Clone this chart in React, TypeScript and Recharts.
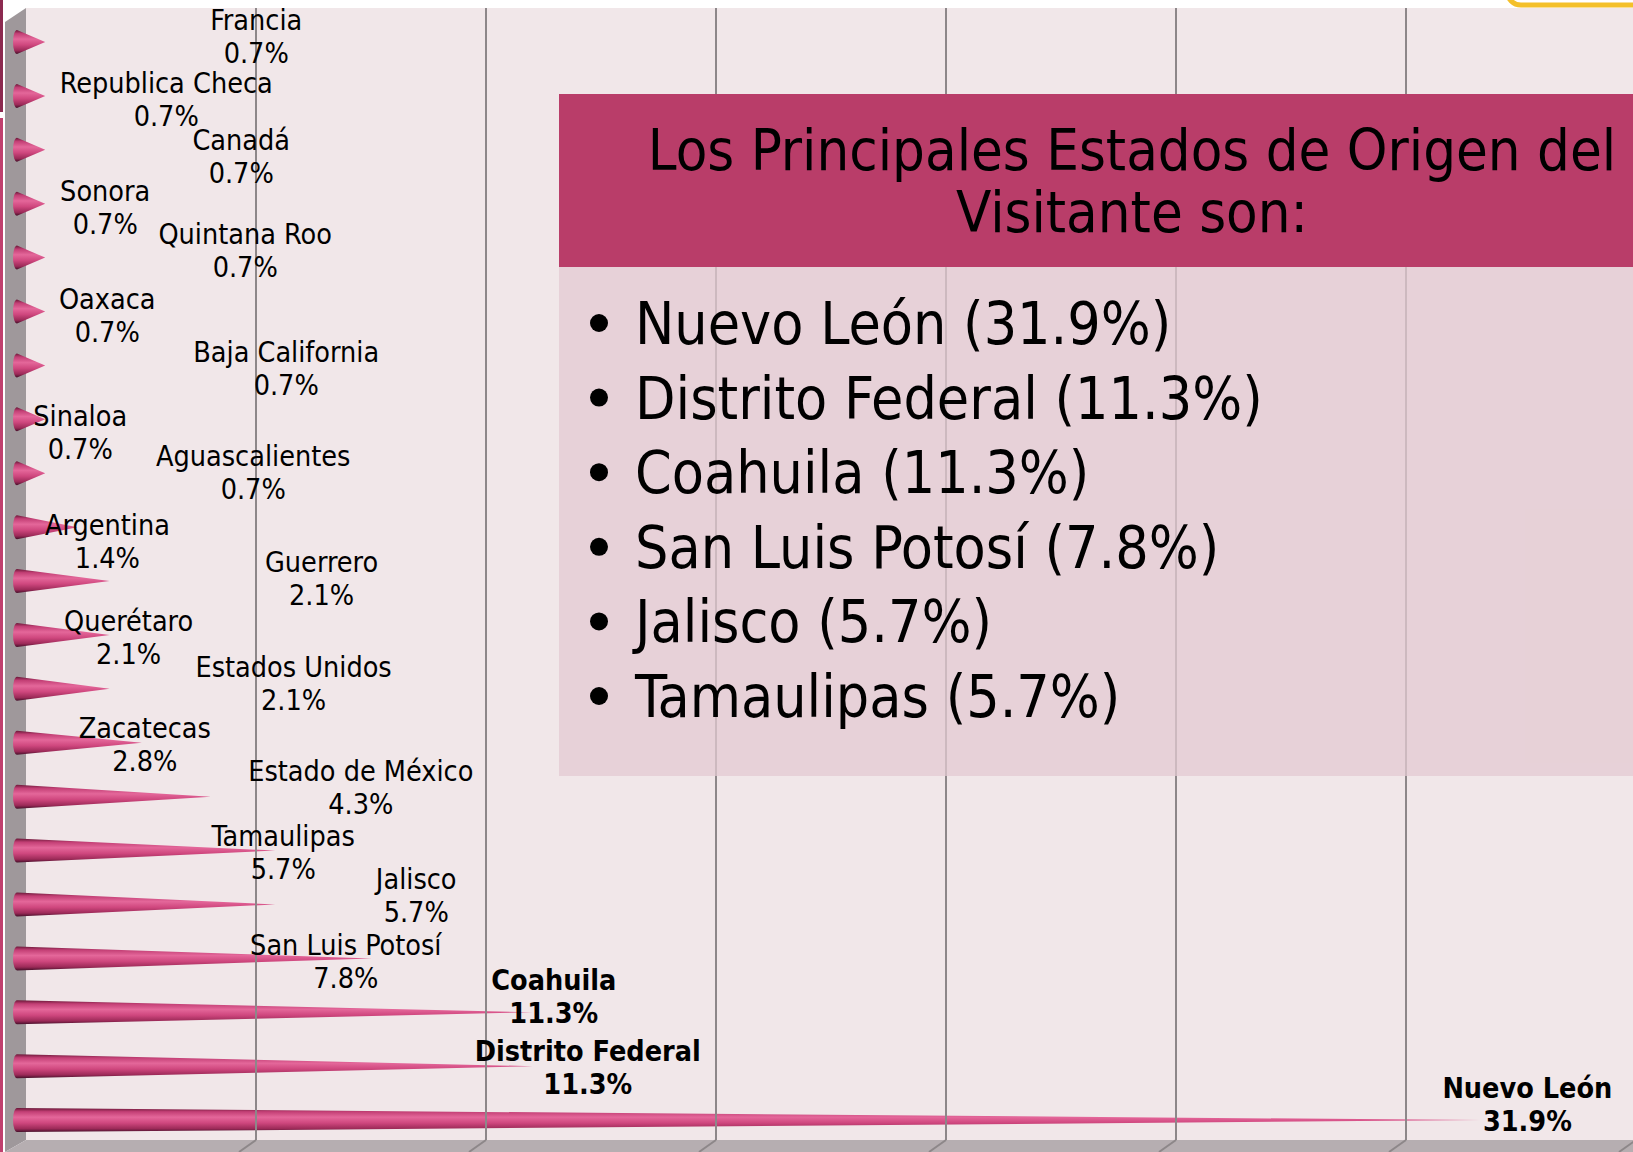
import React from "react";
import { BarChart, Bar, XAxis, YAxis, ReferenceLine, LabelList } from "recharts";

const STATES = [
  "Francia", "Republica Checa", "Canadá", "Sonora", "Quintana Roo", "Oaxaca",
  "Baja California", "Sinaloa", "Aguascalientes", "Argentina", "Guerrero",
  "Querétaro", "Estados Unidos", "Zacatecas", "Estado de México", "Tamaulipas",
  "Jalisco", "San Luis Potosí", "Coahuila", "Distrito Federal", "Nuevo León",
];
const SHARES = [
  0.7, 0.7, 0.7, 0.7, 0.7, 0.7, 0.7, 0.7, 0.7, 1.4, 2.1, 2.1, 2.1, 2.8, 4.3,
  5.7, 5.7, 7.8, 11.3, 11.3, 31.9,
];
const GRID_TICKS = [5, 10, 15, 20, 25, 30, 35];
const TITLE_LINES = ["Los Principales Estados de Origen del", "Visitante son:"];

// labels were dragged by hand in the original: offset from cone tip / cone centre
const LABEL_OFFSETS: [number, number][] = [
  [211, -22], [121, -12], [196, -9], [60, -12], [200, -23], [62, -12],
  [241, -13], [35, -3], [208, -17], [30, -2], [212, -19], [19, -13],
  [184, -21], [3, -14], [150, -25], [8, -14], [141, -25], [-26, -13],
  [21, -32], [55, -15], [47, -32],
];

const W = 1633;
const H = 1152;
const DEPTH = 13;
const FONT = "'DejaVu Sans Condensed', 'DejaVu Sans', sans-serif";

const data = STATES.map((name, i) => ({ name, value: SHARES[i] }));
const top6 = data.slice().reverse().slice(0, 6);

const fmt = (v: number) => `${v.toFixed(1)}%`;

const Cone = (p: any) => {
  const { x, y, width, height } = p;
  if (width == null || height == null) return null;
  const rx = 4;
  const bx = x + rx;
  const cy = y + height / 2;
  const d = `M${bx},${y} L${x + width},${cy} L${bx},${y + height} A${rx},${height / 2} 0 0 1 ${bx},${y} Z`;
  return <path d={d} fill="url(#coneGrad)" />;
};

const GridLine = (p: any) => {
  const gx = p.x1 + DEPTH;
  return (
    <g>
      <line x1={gx} y1={8} x2={gx} y2={1140} stroke="#8d8789" strokeWidth={2} />
      <line x1={gx} y1={1140} x2={gx - 17} y2={1152} stroke="#8d8789" strokeWidth={2} />
    </g>
  );
};

const renderLabel = (p: any) => {
  const vb = p.viewBox || p;
  const x = vb.x ?? p.x;
  const y = vb.y ?? p.y;
  const width = vb.width ?? p.width;
  const height = vb.height ?? p.height;
  const idx = STATES.indexOf(p.value);
  if (idx < 0) return null;
  const [dx, dy] = LABEL_OFFSETS[idx];
  const cx = x + width + dx;
  const ny = y + height / 2 + dy;
  const bold = SHARES[idx] >= 10;
  return (
    <g key={`lab-${idx}`} fontFamily={FONT} fontSize={28.5} fontWeight={bold ? 700 : 400} fill="#000">
      <text x={cx} y={ny} textAnchor="middle" dominantBaseline="central">{STATES[idx]}</text>
      <text x={cx} y={ny + 33} textAnchor="middle" dominantBaseline="central">{fmt(SHARES[idx])}</text>
    </g>
  );
};

export default function App() {
  return (
    <div style={{ position: "absolute", left: 0, top: 0, width: W, height: H, background: "#fff", overflow: "hidden" }}>
      <svg width={W} height={H} style={{ position: "absolute", left: 0, top: 0 }}>
        <rect x={0} y={0} width={3} height={112} fill="#8c2a50" />
        <rect x={0} y={118} width={3} height={H - 118} fill="#c0406e" />
        <rect x={26} y={8} width={W - 26} height={1132} fill="#f1e7e9" />
        <polygon points={`5,22 26,8 26,1140 5,1152`} fill="#9f989b" />
        <polygon points={`26,1140 ${W},1140 ${W},1152 5,1152`} fill="#b6aeb1" />
        <rect x={1507} y={-40} width={200} height={45} rx={14} fill="#fff" stroke="#f4c02a" strokeWidth={5} />
      </svg>
      <div style={{ position: "absolute", left: 0, top: 0 }}>
        <BarChart
          width={W}
          height={H}
          layout="vertical"
          data={data}
          margin={{ top: 15, right: 10, bottom: 5, left: 13 }}
        >
          <defs>
            <linearGradient id="coneGrad" x1="0" y1="0" x2="0" y2="1">
              <stop offset="0%" stopColor="#6a1838" />
              <stop offset="15%" stopColor="#c33f75" />
              <stop offset="38%" stopColor="#e4679a" />
              <stop offset="62%" stopColor="#cf477e" />
              <stop offset="86%" stopColor="#9c2a58" />
              <stop offset="100%" stopColor="#45102a" />
            </linearGradient>
          </defs>
          <XAxis type="number" domain={[0, 35]} ticks={GRID_TICKS} hide allowDataOverflow />
          <YAxis type="category" dataKey="name" hide />
          {GRID_TICKS.map((t) => (
            <ReferenceLine key={t} x={t} ifOverflow="visible" shape={GridLine} />
          ))}
          <Bar dataKey="value" barSize={24} shape={Cone} isAnimationActive={false}>
            <LabelList dataKey="name" content={renderLabel} />
          </Bar>
        </BarChart>
      </div>
      <svg width={W} height={H} style={{ position: "absolute", left: 0, top: 0, pointerEvents: "none" }}>
        <rect x={559} y={94} width={W - 559} height={173} fill="#b93d69" />
        <rect x={559} y={267} width={W - 559} height={509} fill="rgb(227,201,209)" fillOpacity={0.75} />
        <g fontFamily={FONT} fontSize={57.5} fill="#000" textAnchor="middle">
          {TITLE_LINES.map((t, i) => (
            <text key={t} x={1132} y={170 + i * 62}>{t}</text>
          ))}
        </g>
        <g fontFamily={FONT} fontSize={58.5} fill="#000">
          {top6.map((d, i) => (
            <g key={d.name}>
              <circle cx={599} cy={344 + i * 74.6 - 21} r={9} fill="#000" />
              <text x={635} y={344 + i * 74.6}>{`${d.name} (${fmt(d.value)})`}</text>
            </g>
          ))}
        </g>
      </svg>
    </div>
  );
}
